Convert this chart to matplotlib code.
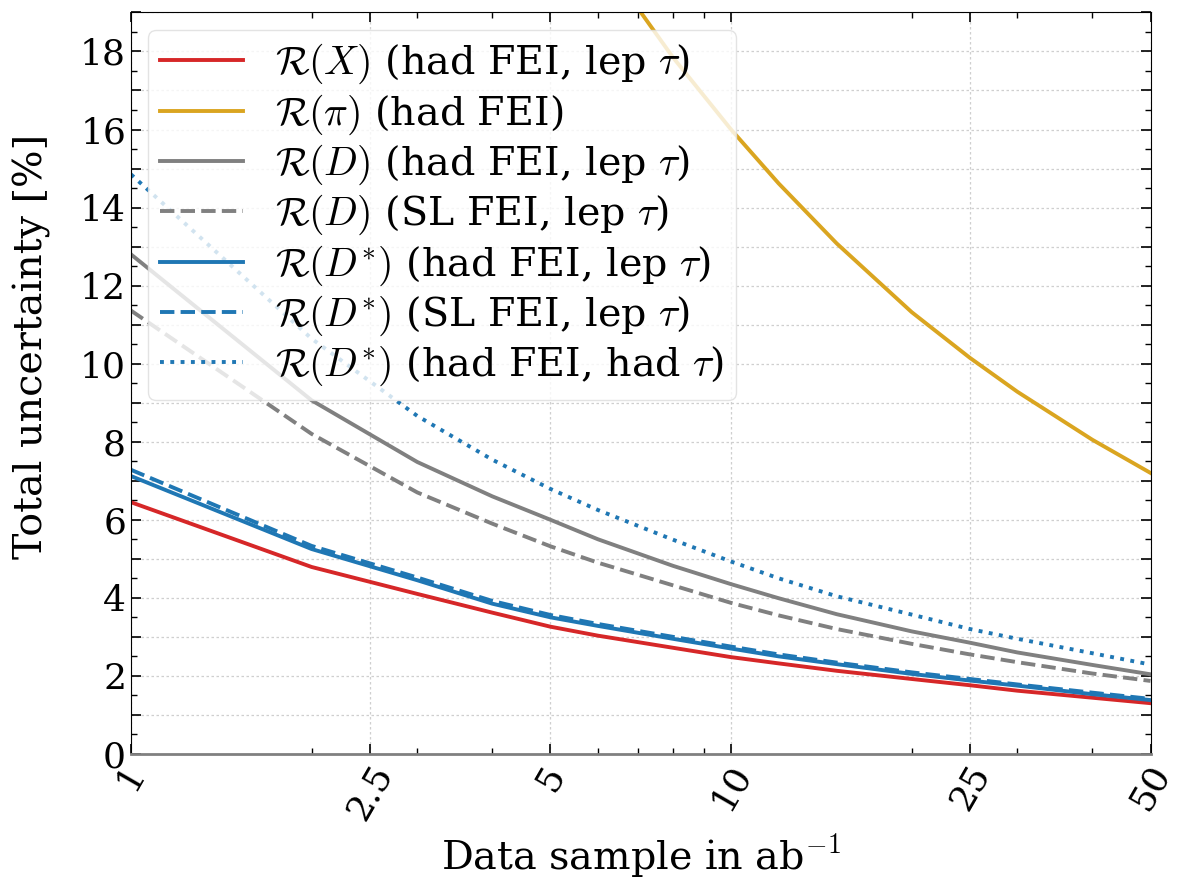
import matplotlib

matplotlib.use("Agg")
import matplotlib.pyplot as plt
from matplotlib.ticker import FixedLocator, FuncFormatter, MultipleLocator

plt.rcParams["font.family"] = "serif"
plt.rcParams["font.serif"] = ["DejaVu Serif"]
plt.rcParams["mathtext.fontset"] = "cm"

# luminosity points (ab^-1)
lumi = [1, 2, 3, 4, 5, 6, 8, 10, 12, 15, 20, 25, 30, 40, 50]
r_x_had_lep = [6.45, 4.79, 4.10, 3.62, 3.26, 3.03, 2.72, 2.48, 2.32, 2.13, 1.92, 1.76, 1.62, 1.44, 1.30]
r_d_had_lep = [12.8, 9.06, 7.48, 6.60, 6.00, 5.50, 4.82, 4.35, 3.99, 3.58, 3.14, 2.85, 2.60, 2.28, 2.04]
r_d_sl_lep = [11.36, 8.20, 6.70, 5.90, 5.32, 4.90, 4.32, 3.87, 3.55, 3.20, 2.82, 2.55, 2.35, 2.06, 1.87]
r_dst_had_lep = [7.12, 5.25, 4.45, 3.85, 3.50, 3.28, 2.95, 2.70, 2.50, 2.30, 2.05, 1.88, 1.75, 1.53, 1.38]
r_dst_sl_lep = [7.28, 5.33, 4.52, 3.92, 3.56, 3.33, 3.00, 2.75, 2.55, 2.34, 2.09, 1.92, 1.78, 1.57, 1.41]
r_dst_had_had = [14.85, 10.64, 8.66, 7.54, 6.79, 6.25, 5.49, 4.93, 4.50, 4.04, 3.57, 3.20, 2.95, 2.58, 2.29]
lumi_pi = [6, 7, 8, 10, 12, 15, 20, 25, 30, 40, 50]
r_pi_had = [20.7, 19.1, 17.85, 16.0, 14.62, 13.08, 11.32, 10.15, 9.28, 8.05, 7.2]

xticks = [1, 2.5, 5, 10, 25, 50]
xticklabels = ["1", "2.5", "5", "10", "25", "50"]

RED = "#d62728"
GOLD = "#daa520"
GRAY = "#808080"
BLUE = "#1f77b4"


def main():
    fig = plt.figure(figsize=(11.8, 8.88), dpi=100)
    ax = fig.add_axes([0.111, 0.151, 0.864, 0.835])
    lw = 2.8
    ax.plot(lumi, r_x_had_lep, color=RED, lw=lw, label=r"$\mathcal{R}(X)$ (had FEI, lep $\tau$)")
    ax.plot(lumi_pi, r_pi_had, color=GOLD, lw=lw, label=r"$\mathcal{R}(\pi)$ (had FEI)")
    ax.plot(lumi, r_d_had_lep, color=GRAY, lw=lw, label=r"$\mathcal{R}(D)$ (had FEI, lep $\tau$)")
    ax.plot(lumi, r_d_sl_lep, color=GRAY, lw=lw, ls="--", label=r"$\mathcal{R}(D)$ (SL FEI, lep $\tau$)")
    ax.plot(lumi, r_dst_had_lep, color=BLUE, lw=lw, label=r"$\mathcal{R}(D^{*})$ (had FEI, lep $\tau$)")
    ax.plot(lumi, r_dst_sl_lep, color=BLUE, lw=lw, ls="--", label=r"$\mathcal{R}(D^{*})$ (SL FEI, lep $\tau$)")
    ax.plot(lumi, r_dst_had_had, color=BLUE, lw=lw, ls=":", label=r"$\mathcal{R}(D^{*})$ (had FEI, had $\tau$)")

    ax.set_xscale("log")
    ax.set_xlim(1, 50)
    ax.set_ylim(0, 19)
    ax.xaxis.set_major_locator(FixedLocator(xticks))
    ax.set_xticklabels(xticklabels, rotation=60)
    ax.yaxis.set_major_locator(MultipleLocator(1))
    ax.yaxis.set_minor_locator(MultipleLocator(0.5))
    ax.yaxis.set_major_formatter(FuncFormatter(lambda v, p: f"{int(v)}" if int(round(v)) % 2 == 0 else ""))

    ax.tick_params(which="both", direction="in", top=True, right=True, labelsize=26)
    ax.tick_params(which="major", length=7, width=1.2)
    ax.tick_params(which="minor", length=4, width=1.0)
    ax.grid(which="major", color="#cfcfcf", ls=(0, (2, 2)), lw=0.9)
    ax.spines["bottom"].set_color(GRAY)
    ax.spines["bottom"].set_linewidth(2)

    ax.set_xlabel(r"Data sample in ab$^{-1}$", fontsize=28.5)
    ax.xaxis.set_label_coords(0.5, -0.106)
    ax.set_ylabel("Total uncertainty [%]", fontsize=28.5)
    ax.yaxis.set_label_coords(-0.078, 0.55)

    leg = ax.legend(loc="upper left", fontsize=28.5, labelspacing=0.15, handlelength=2.1,
                    borderpad=0.3, borderaxespad=0, bbox_to_anchor=(0.0167, 0.976),
                    framealpha=0.8)
    leg.get_frame().set_edgecolor("#dddddd")

    fig.savefig("out.png", dpi=100)


if __name__ == "__main__":
    main()
